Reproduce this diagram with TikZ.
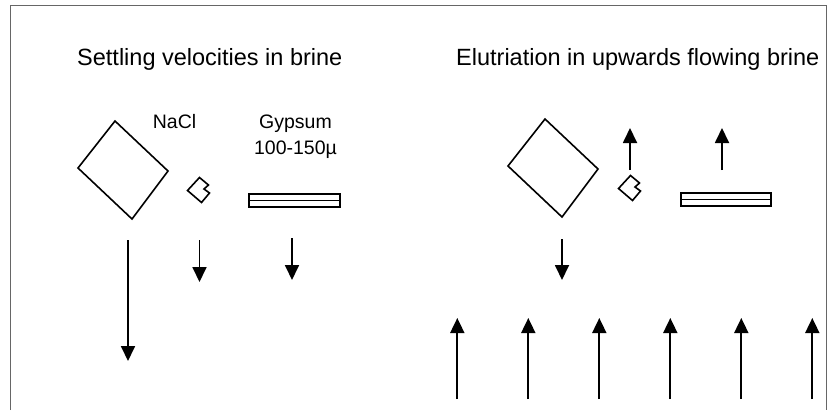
\documentclass[tikz,border=0pt]{standalone}
\usepackage{fontspec}
\setmainfont{Liberation Sans}
\usetikzlibrary{arrows.meta}
\tikzset{
  frame/.style={draw=black!60, line width=1pt},
  crystal/.style={draw, line width=1.6pt, line join=miter},
  flow/.style={draw, line width=1.8pt, -{Triangle[width=14pt,length=15pt]}},
  title/.style={anchor=base west, inner sep=0pt, font=\fontsize{23.5}{28}\selectfont},
  label/.style={anchor=base, inner sep=0pt, align=center, font=\fontsize{19.5}{26}\selectfont},
}
\begin{document}
\begin{tikzpicture}[x=1pt,y=-1pt]
\useasboundingbox (0,0) rectangle (832,410);
% frame
\draw[frame] (10,410) -- (10,5) -- (826,5) -- (826,410);
% titles
\node[title] (t1) at (77,65) {Settling velocities in brine};
\node[title] (t2) at (456,65) {Elutriation in upwards flowing brine};
% labels
\node[label] (nacl) at (174.5,128) {NaCl};
\node[label] (gyp) at (295.5,154) {Gypsum\\100-150µ};
% left crystals
\draw[crystal] (115,121) -- (168,171) -- (132,219) -- (78,168) -- cycle;
\draw[crystal] (199.5,177.5) -- (208.5,185) -- (204,189) -- (209.5,193) -- (201.5,202.5) -- (187.5,190.5) -- cycle;
\draw[crystal] (249,194) rectangle (340,207);
\draw[crystal] (249,200.5) -- (340,200.5);
% right crystals
\begin{scope}[shift={(430,-2)}]
\draw[crystal] (115,121) -- (168,171) -- (132,219) -- (78,168) -- cycle;
\draw[crystal] (200.5,177.5) -- (209.5,185) -- (205,189) -- (210.5,193) -- (202.5,202.5) -- (188.5,190.5) -- cycle;
\end{scope}
\draw[crystal] (681,193) rectangle (771,206);
\draw[crystal] (681,199.5) -- (771,199.5);
% settling arrows (left)
\coordinate (a1s) at (128,240); \coordinate (a1e) at (128,361);
\coordinate (a2s) at (199.5,240); \coordinate (a2e) at (199.5,282);
\coordinate (a3s) at (292,238); \coordinate (a3e) at (292,280);
\draw[flow] (a1s) -- (a1e);
\draw[flow] (a2s) -- (a2e);
\draw[flow] (a3s) -- (a3e);
% right arrows
\coordinate (b1s) at (562,239); \coordinate (b1e) at (562,280);
\coordinate (b2s) at (630,170); \coordinate (b2e) at (630,128);
\coordinate (b3s) at (722,170); \coordinate (b3e) at (722,128);
\draw[flow] (b1s) -- (b1e);
\draw[flow] (b2s) -- (b2e);
\draw[flow] (b3s) -- (b3e);
% upward flow
\foreach \x [count=\i] in {457.3,528.3,599.3,670.3,741.3,812.3}{
  \coordinate (u\i s) at (\x,399);
  \coordinate (u\i e) at (\x,318);
  \draw[flow] (u\i s) -- (u\i e);
}
\end{tikzpicture}
\end{document}
